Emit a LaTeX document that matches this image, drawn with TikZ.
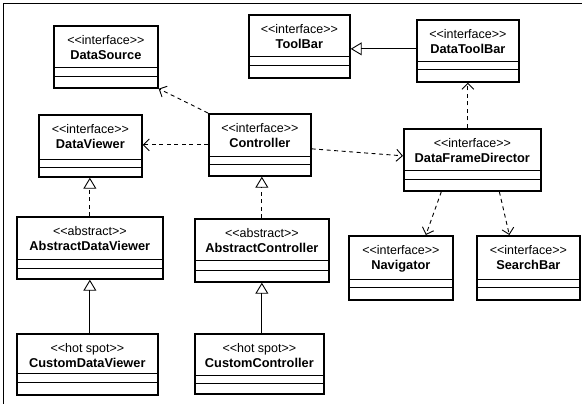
\documentclass[tikz,border=0pt]{standalone}
\usepackage{fontspec}
\setmainfont{Liberation Sans}
\usetikzlibrary{arrows.meta,calc}
\tikzset{
  classbox/.style={draw, line width=1.7pt, inner sep=0pt, anchor=north west},
  sepline/.style={line width=0.9pt},
  stereotxt/.style={font=\fontsize{12.5}{14}\selectfont, inner sep=0pt, text height=9pt, text depth=2.5pt},
  cname/.style={font=\fontsize{12.8}{14}\selectfont\bfseries, inner sep=0pt, text height=9.5pt, text depth=2.5pt},
  depend/.style={line width=0.9pt, dash pattern=on 4pt off 3.5pt, -{Straight Barb[length=6pt,width=12pt]}},
  realize/.style={line width=0.9pt, dash pattern=on 4pt off 3.5pt, -{Triangle[open,length=11pt,width=13pt,line width=0.9pt]}},
  general/.style={line width=0.9pt, -{Triangle[open,length=11pt,width=13pt,line width=0.9pt]}},
  framel/.style={line width=0.9pt}
}
\newcommand\stt[1]{<\kern0pt<#1>\kern0pt>}
% name, x, y, w, h, sep1, sep2, stereotype, title
\newcommand\umlclass[9]{%
  \node[classbox, minimum width=#4pt, minimum height=#5pt] (#1) at (#2,#3) {};
  \draw[sepline] ($(#1.north west)+(0,#6)$) -- ($(#1.north east)+(0,#6)$);
  \draw[sepline] ($(#1.north west)+(0,#7)$) -- ($(#1.north east)+(0,#7)$);
  \node[stereotxt] (#1-st) at ($(#1.north)+(0,16)$) {\stt{#8}};
  \node[cname] (#1-nm) at ($(#1.north)+(0,31)$) {#9};
}
\begin{document}
\begin{tikzpicture}[x=1pt,y=-1pt]
\useasboundingbox (0,0) rectangle (582,404);
\coordinate (fa) at (3,404);
\coordinate (fb) at (3,3);
\coordinate (fc) at (582,3);
\draw[framel] (fa) -- (fb) -- (fc);

\umlclass{DataSource}{53}{25}{104}{62}{42}{51}{interface}{DataSource}
\umlclass{ToolBar}{248}{14}{101}{63}{42}{51}{interface}{ToolBar}
\umlclass{DataToolBar}{416}{19}{102}{62}{42}{50}{interface}{DataToolBar}
\umlclass{DataViewer}{38}{114}{103}{62}{45}{53}{interface}{DataViewer}
\umlclass{Controller}{208}{113}{102}{62}{43}{51}{interface}{Controller}
\umlclass{DFD}{403}{128}{137}{62}{42}{51}{interface}{DataFrameDirector}
\umlclass{ADV}{16}{216}{146}{62}{43}{52}{abstract}{AbstractDataViewer}
\umlclass{AC}{194}{218}{134}{63}{42}{52}{abstract}{AbstractController}
\umlclass{Navigator}{348}{235}{104}{64}{44}{52}{interface}{Navigator}
\umlclass{SearchBar}{476}{235}{103}{64}{44}{52}{interface}{SearchBar}
\umlclass{CDV}{16}{333}{141}{61}{40}{49}{hot spot}{CustomDataViewer}
\umlclass{CC}{194}{333}{129}{60}{42}{50}{hot spot}{CustomController}

% dependencies
\draw[depend] (Controller.north west) -- (DataSource.south east);
\draw[depend] (Controller.west) -- (Controller.west -| DataViewer.east);
\draw[depend] ($(Controller.east)+(0,4)$) -- ($(DFD.west)+(0,-4)$);
\draw[depend] (DFD.north -| DataToolBar.south) -- (DataToolBar.south);
\draw[depend] ($(DFD.south)+(-31,0)$) -- ($(Navigator.north)+(25,0)$);
\draw[depend] ($(DFD.south)+(27,0)$) -- ($(SearchBar.north)+(-19,0)$);
% generalization / realization
\draw[general] ($(DataToolBar.west)+(0,-2)$) -- ($(DataToolBar.west -| ToolBar.east)+(0,-2)$);
\draw[realize] (ADV.north) -- (ADV.north |- DataViewer.south);
\draw[general] (ADV.south |- CDV.north) -- (ADV.south);
\draw[realize] (AC.north) -- (AC.north |- Controller.south);
\draw[general] (AC.south |- CC.north) -- (AC.south);
\end{tikzpicture}
\end{document}
